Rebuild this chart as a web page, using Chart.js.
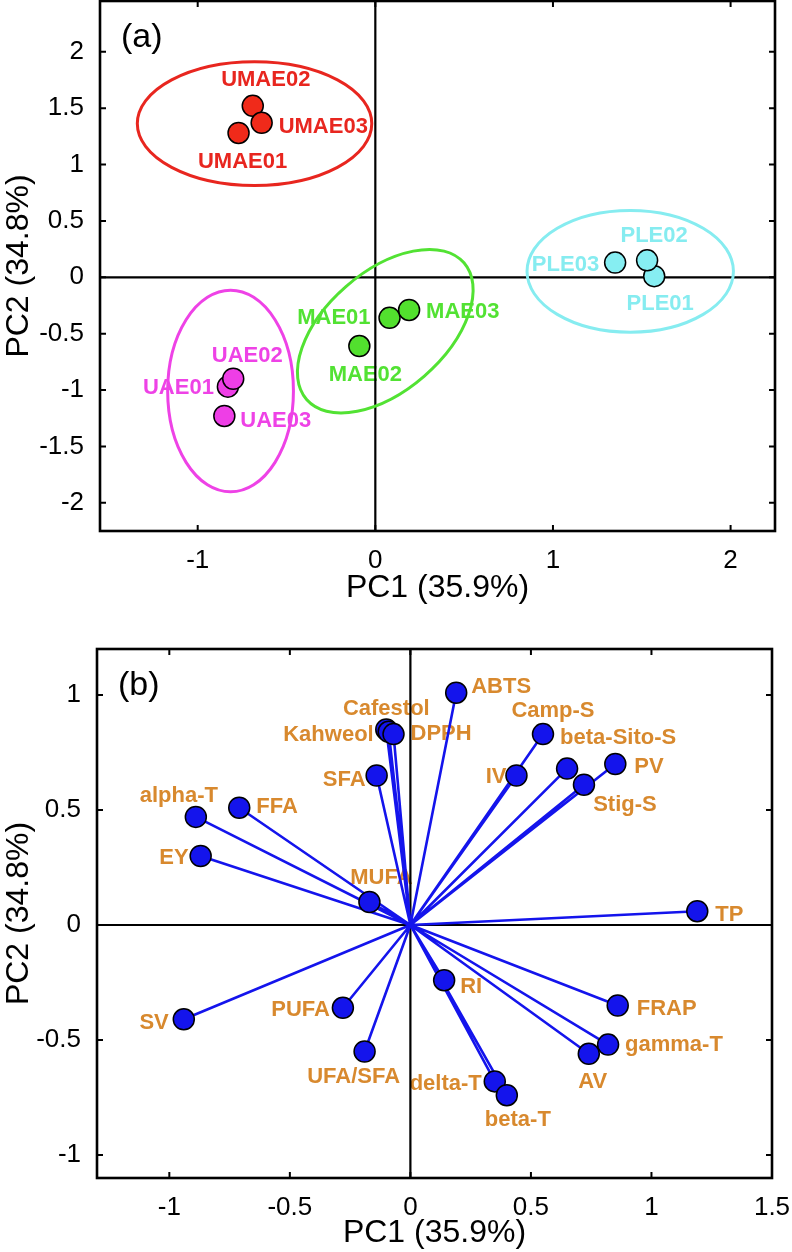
<!DOCTYPE html>
<html>
<head>
<meta charset="utf-8">
<script src="https://cdn.jsdelivr.net/npm/chart.js@4.4.1/dist/chart.umd.min.js"></script>
<style>
  html, body { margin: 0; padding: 0; background: #fff; }
  body { width: 792px; height: 1252px; position: relative; overflow: hidden; }
  .panel { position: absolute; left: 0; width: 792px; }
  #wrapA { top: 0; height: 620px; }
  #wrapB { top: 620px; height: 632px; }
</style>
</head>
<body>
<div class="panel" id="wrapA"><canvas id="chartA"></canvas></div>
<div class="panel" id="wrapB"><canvas id="chartB"></canvas></div>
<script>
// ---------- panel (a): sample scores ----------
const sampleNames = ['UMAE01', 'UMAE02', 'UMAE03', 'PLE01', 'PLE02', 'PLE03',
                     'MAE01', 'MAE02', 'MAE03', 'UAE01', 'UAE02', 'UAE03'];
const sampleGroup = [0, 0, 0, 1, 1, 1, 2, 2, 2, 3, 3, 3];
const scorePC1 = [-0.77, -0.69, -0.64, 1.57, 1.53, 1.35, 0.08, -0.09, 0.19, -0.83, -0.80, -0.85];
const scorePC2 = [1.28, 1.52, 1.37, 0.01, 0.15, 0.13, -0.36, -0.61, -0.29, -0.97, -0.90, -1.23];

// group ellipses: centre + two semi-axis vectors (PC units)
const ellipseCx = [-0.68, 1.435, 0.056, -0.815];
const ellipseCy = [1.363, 0.053, -0.478, -1.009];
const ellipseU = [[0.66, 0], [0.581, 0], [0.443, 0.606], [0.354, 0]];
const ellipseV = [[0, 0.549], [0, 0.54], [0.22, -0.398], [0, 0.894]];

const groupColors = ['#e8261f', '#86ecf0', '#52e233', '#ee42e6'];
const groupFill = ['#f02a1a', '#86eef2', '#52e02e', '#ee3ee6'];

const xTicksA = [-1, 0, 1, 2];
const yTicksA = [-2, -1.5, -1, -0.5, 0, 0.5, 1, 1.5, 2];

// ---------- panel (b): variable loadings ----------
const varNames = ['ABTS', 'Cafestol', 'Kahweol', 'DPPH', 'Camp-S', 'beta-Sito-S', 'PV', 'Stig-S',
                  'IV', 'SFA', 'alpha-T', 'FFA', 'EY', 'MUFA', 'TP', 'RI', 'PUFA', 'SV', 'FRAP',
                  'gamma-T', 'AV', 'UFA/SFA', 'delta-T', 'beta-T'];
const loadPC1 = [0.19, -0.10, -0.09, -0.07, 0.55, 0.65, 0.85, 0.72, 0.44, -0.14, -0.89, -0.71,
                 -0.87, -0.17, 1.19, 0.14, -0.28, -0.94, 0.86, 0.82, 0.74, -0.19, 0.35, 0.40];
const loadPC2 = [1.01, 0.85, 0.84, 0.83, 0.83, 0.68, 0.70, 0.61, 0.65, 0.65, 0.47, 0.51,
                 0.30, 0.10, 0.06, -0.24, -0.36, -0.41, -0.35, -0.52, -0.56, -0.55, -0.68, -0.74];

const xTicksB = [-1, -0.5, 0, 0.5, 1, 1.5];
const yTicksB = [-1, -0.5, 0, 0.5, 1];

// label placement (pixels from the marker)
const scoreLabelDx = [4, 13, 17, 6, 7, -16, -19, 6, 17, -14, 14, 16];
const scoreLabelDy = [29, -26, 4, 28, -24, 2, 0, 29, 2, 1, -23, 5];
const scoreLabelAlign = ['center', 'center', 'left', 'center', 'center', 'right',
                         'right', 'center', 'left', 'right', 'center', 'left'];
const varLabelDx = [15, 0, -15, 17, 10, -7, 19, 41, -10, -11, -17, 17, -12, 12, 18, 16, -13, -15, 19, 17, 4, -11, -13, 11];
const varLabelDy = [-6, -21, 3, 0, -23, -31, 3, 20, 1, 4, -21, -1, 2, -24, 4, 7, 2, 4, 3, 0, 28, 25, 3, 25];
const varLabelAlign = ['left', 'center', 'right', 'left', 'center', 'left', 'left', 'center', 'right', 'right',
                       'center', 'left', 'right', 'center', 'left', 'left', 'right', 'right', 'left', 'left',
                       'center', 'center', 'right', 'center'];

const FONT = '"Liberation Sans", Arial, Helvetica, sans-serif';
const blue = '#1414ec';
const orange = '#d8892e';

// draws labels, zero lines, ellipses under the markers; box, inward ticks and panel tag on top
const pcaDecor = {
  id: 'pcaDecor',
  beforeDatasetsDraw(chart, args, o) {
    const { ctx, chartArea: a, scales: { x, y } } = chart;
    ctx.save();
    ctx.font = 'bold 22px ' + FONT;
    ctx.textBaseline = 'middle';
    o.labels.forEach(l => {
      ctx.fillStyle = l.color;
      ctx.textAlign = l.align;
      ctx.fillText(l.text, x.getPixelForValue(l.px) + l.dx, y.getPixelForValue(l.py) + l.dy);
    });

    const x0 = x.getPixelForValue(0), y0 = y.getPixelForValue(0);
    ctx.strokeStyle = '#000';
    ctx.lineWidth = 2.2;
    ctx.beginPath();
    ctx.moveTo(x0, a.top); ctx.lineTo(x0, a.bottom);
    ctx.moveTo(a.left, y0); ctx.lineTo(a.right, y0);
    ctx.stroke();

    ctx.lineWidth = 3;
    (o.ellipses || []).forEach(e => {
      const cx = x.getPixelForValue(e.cx), cy = y.getPixelForValue(e.cy);
      const ux = x.getPixelForValue(e.cx + e.u[0]) - cx, uy = y.getPixelForValue(e.cy + e.u[1]) - cy;
      const vx = x.getPixelForValue(e.cx + e.v[0]) - cx, vy = y.getPixelForValue(e.cy + e.v[1]) - cy;
      ctx.save();
      ctx.beginPath();
      ctx.transform(ux, uy, vx, vy, cx, cy);
      ctx.arc(0, 0, 1, 0, Math.PI * 2);
      ctx.restore();
      ctx.strokeStyle = e.color;
      ctx.stroke();
    });
    ctx.restore();
  },
  afterDraw(chart, args, o) {
    const { ctx, chartArea: a, scales: { x, y } } = chart;
    ctx.save();
    ctx.strokeStyle = '#000';
    ctx.lineWidth = 2;
    ctx.beginPath();
    x.ticks.forEach(t => {
      const p = x.getPixelForValue(t.value);
      ctx.moveTo(p, a.bottom); ctx.lineTo(p, a.bottom - 6);
      ctx.moveTo(p, a.top); ctx.lineTo(p, a.top + 6);
    });
    y.ticks.forEach(t => {
      const p = y.getPixelForValue(t.value);
      ctx.moveTo(a.left, p); ctx.lineTo(a.left + 6, p);
      ctx.moveTo(a.right, p); ctx.lineTo(a.right - 6, p);
    });
    ctx.stroke();
    ctx.lineWidth = 2.6;
    ctx.strokeRect(a.left, a.top, a.right - a.left, a.bottom - a.top);

    ctx.fillStyle = '#000';
    ctx.font = '34px ' + FONT;
    ctx.textAlign = 'left';
    ctx.textBaseline = 'middle';
    ctx.fillText(o.panel, a.left + 21, a.top + 37);
    ctx.restore();
  }
};

function axes(xr, yr, xTicks, yTicks, yWidth, xHeight) {
  const tickFont = { family: FONT, size: 26 };
  const titleFont = { family: FONT, size: 32 };
  return {
    x: {
      type: 'linear', min: xr[0], max: xr[1],
      ticks: { color: '#000', font: tickFont, padding: 6, autoSkip: false, callback: v => String(v) },
      grid: { display: false },
      border: { display: false },
      title: { display: true, text: 'PC1 (35.9%)', color: '#000', font: titleFont, padding: 0 },
      afterBuildTicks: s => { s.ticks = xTicks.map(v => ({ value: v })); },
      afterFit: s => { s.height = xHeight; s.paddingLeft = 0; s.paddingRight = 0; }
    },
    y: {
      type: 'linear', min: yr[0], max: yr[1],
      ticks: { color: '#000', font: tickFont, padding: 8, autoSkip: false, callback: v => String(v) },
      grid: { display: false },
      border: { display: false },
      title: { display: true, text: 'PC2 (34.8%)', color: '#000', font: titleFont, padding: 0 },
      afterBuildTicks: s => { s.ticks = yTicks.map(v => ({ value: v })); },
      afterFit: s => { s.width = yWidth; s.paddingTop = 0; s.paddingBottom = 0; }
    }
  };
}

// ---------- chart (a) ----------
const scoreSets = [0, 1, 2, 3].map(g => ({
  data: scorePC1.map((v, i) => ({ x: v, y: scorePC2[i] })).filter((p, i) => sampleGroup[i] === g),
  backgroundColor: groupFill[g],
  borderColor: '#000',
  borderWidth: 1.5,
  pointRadius: 10.5
}));

new Chart(document.getElementById('chartA'), {
  type: 'scatter',
  data: { datasets: scoreSets },
  options: {
    responsive: true,
    maintainAspectRatio: false,
    devicePixelRatio: 1,
    animation: false,
    events: [],
    layout: { autoPadding: false, padding: { top: 1, right: 17, bottom: 13, left: 0 } },
    scales: axes([-1.55, 2.25], [-2.25, 2.45], xTicksA, yTicksA, 100, 76),
    plugins: {
      legend: { display: false },
      tooltip: { enabled: false },
      pcaDecor: {
        panel: '(a)',
        labels: sampleNames.map((n, i) => ({
          text: n, px: scorePC1[i], py: scorePC2[i],
          dx: scoreLabelDx[i], dy: scoreLabelDy[i], align: scoreLabelAlign[i],
          color: groupColors[sampleGroup[i]]
        })),
        ellipses: ellipseCx.map((cx, g) => ({
          cx: cx, cy: ellipseCy[g], u: ellipseU[g], v: ellipseV[g], color: groupColors[g]
        }))
      }
    }
  },
  plugins: [pcaDecor]
});

// ---------- chart (b) ----------
const loadPoints = loadPC1.map((v, i) => ({ x: v, y: loadPC2[i] }));
const loadRays = loadPoints.flatMap(p => [{ x: 0, y: 0 }, p]);

new Chart(document.getElementById('chartB'), {
  type: 'scatter',
  data: {
    datasets: [
      {
        data: loadPoints,
        backgroundColor: blue,
        borderColor: '#000',
        borderWidth: 1.5,
        pointRadius: 10.5,
        order: 0
      },
      {
        data: loadRays,
        showLine: true,
        borderColor: blue,
        borderWidth: 2.6,
        borderJoinStyle: 'round',
        pointRadius: 0,
        order: 1
      }
    ]
  },
  options: {
    responsive: true,
    maintainAspectRatio: false,
    devicePixelRatio: 1,
    animation: false,
    events: [],
    layout: { autoPadding: false, padding: { top: 29, right: 20, bottom: 0, left: 0 } },
    scales: axes([-1.3, 1.5], [-1.1, 1.2], xTicksB, yTicksB, 97, 74),
    plugins: {
      legend: { display: false },
      tooltip: { enabled: false },
      pcaDecor: {
        panel: '(b)',
        labels: varNames.map((n, i) => ({
          text: n, px: loadPC1[i], py: loadPC2[i],
          dx: varLabelDx[i], dy: varLabelDy[i], align: varLabelAlign[i],
          color: orange
        }))
      }
    }
  },
  plugins: [pcaDecor]
});
</script>
</body>
</html>
